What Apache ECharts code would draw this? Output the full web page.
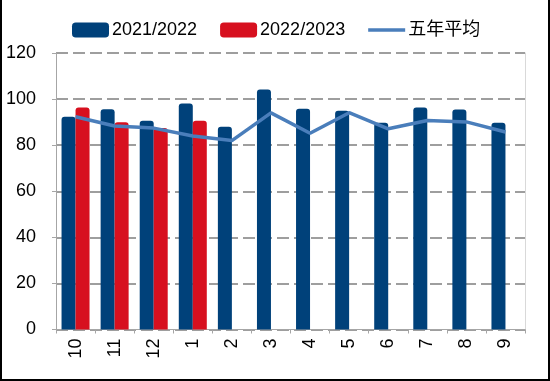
<!DOCTYPE html>
<html><head><meta charset="utf-8">
<script src="https://cdn.jsdelivr.net/npm/echarts@6/dist/echarts.min.js"></script>
<style>html,body{margin:0;padding:0;background:#fff}#c{width:550px;height:381px}</style>
</head><body><div id="c"></div>
<script>
const categories = ['10','11','12','1','2','3','4','5','6','7','8','9'];
const s2122 = [92.3, 95.6, 90.6, 98.1, 88.0, 104.2, 95.8, 94.9, 89.7, 96.4, 95.5, 89.7];
const s2223 = [96.4, 89.9, 87.4, 90.6, null, null, null, null, null, null, null, null];
const avg5 = [92.3, 88.3, 87.4, 84.0, 82.0, 94.0, 85.2, 94.1, 87.1, 90.7, 90.1, 85.7];
const seriesNames = ['2021/2022', '2022/2023', '五年平均'];
const yTicks = {min: 0, max: 120, interval: 20};

const FONT = '"Liberation Sans", Arial, "Noto Sans CJK SC", sans-serif';
const chart = echarts.init(document.getElementById('c'), null, {renderer: 'canvas'});
chart.setOption({
  animation: false,
  backgroundColor: '#fff',
  textStyle: {fontFamily: FONT},
  legend: {
    left: 72, top: 21, padding: 0, itemWidth: 37, itemHeight: 15, itemGap: 23,
    textStyle: {fontSize: 18, color: '#000', fontFamily: FONT, padding: [0, 0, 0, -2]},
    data: [
      {name: seriesNames[0], icon: 'roundRect'},
      {name: seriesNames[1], icon: 'roundRect'},
      {name: seriesNames[2], icon: 'path://M0,0 L0,0 M0,5.8 L37,5.8 L37,9.2 L0,9.2 Z M37,15 L37,15',
       itemStyle: {color: '#4a7ebb'}}
    ]
  },
  grid: {left: 56, right: 25, top: 53, bottom: 51.5, containLabel: false},
  xAxis: {
    type: 'category', data: categories, boundaryGap: true,
    axisLine: {lineStyle: {color: '#a6a6a6', width: 1}},
    axisTick: {show: true, length: 4, lineStyle: {color: '#a6a6a6'}},
    axisLabel: {rotate: 90, fontSize: 18, color: '#000', margin: 9, fontFamily: FONT}
  },
  yAxis: [{
    type: 'value', min: yTicks.min, max: yTicks.max, interval: yTicks.interval,
    axisLine: {show: true, lineStyle: {color: '#a6a6a6', width: 1}},
    axisTick: {show: true, length: 4, lineStyle: {color: '#a6a6a6'}},
    axisLabel: {fontSize: 18, color: '#000', margin: 20, fontFamily: FONT},
    splitLine: {show: true, lineStyle: {color: '#7f7f7f', width: 1.6, type: [12, 5]}}
  }, {
    type: 'value', position: 'right', min: yTicks.min, max: yTicks.max, interval: yTicks.interval,
    axisLine: {show: true, lineStyle: {color: '#d9d9d9', width: 1}},
    axisTick: {show: false}, axisLabel: {show: false}, splitLine: {show: false}
  }],
  series: [
    {name: seriesNames[0], type: 'bar', data: s2122, barWidth: 14, barGap: '0%',
     itemStyle: {color: '#00417a', borderRadius: [3, 3, 0, 0]}},
    {name: seriesNames[1], type: 'bar', data: s2223, barWidth: 14,
     itemStyle: {color: '#d7101f', borderRadius: [3, 3, 0, 0]}},
    {name: seriesNames[2], type: 'line', data: avg5, symbol: 'none', z: 5,
     lineStyle: {color: '#4a7ebb', width: 3.5}, itemStyle: {color: '#4a7ebb'}}
  ],
  graphic: [
    {type: 'rect', left: 0, top: 0, shape: {width: 2, height: 381}, style: {fill: '#000'}},
    {type: 'rect', right: 0, top: 0, shape: {width: 2, height: 381}, style: {fill: '#000'}},
    {type: 'rect', left: 0, bottom: 0, shape: {width: 550, height: 2}, style: {fill: '#000'}}
  ]
});
</script></body></html>
